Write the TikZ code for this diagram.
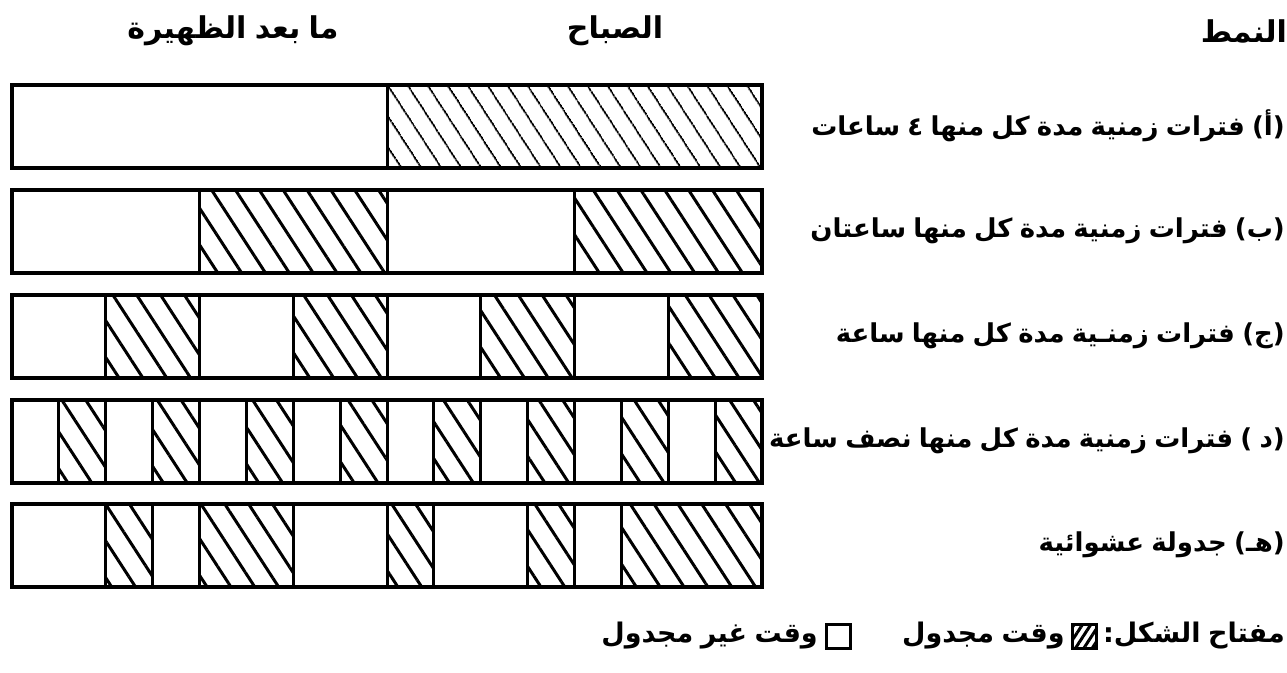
\documentclass[tikz,border=0pt]{standalone}
\usepackage{fontspec}
\newfontfamily\arabicfont[Script=Arabic, WordSpace=0.8]{DejaVu Sans}
\TeXXeTstate=1
\usetikzlibrary{patterns.meta, positioning}
\tikzset{
    bar/.style={draw, line width=4pt},
    cut/.style={line width=3pt},
    busy/.style={pattern={Lines[angle=-57, distance=20pt, line width=3pt]}},
    busyfine/.style={pattern={Lines[angle=-57, distance=17pt, line width=2pt]}},
    lbl/.style={anchor=east, inner sep=0pt, font=\arabicfont\bfseries\fontsize{26}{30}\selectfont},
    head/.style={inner sep=0pt, font=\arabicfont\bfseries\fontsize{30}{34}\selectfont},
    keytxt/.style={inner sep=0pt, font=\arabicfont\bfseries\fontsize{27}{31}\selectfont},
    keybox/.style={draw, line width=3pt, minimum size=24pt, inner sep=0pt}
}

\begin{document}
\begin{tikzpicture}[x=1pt, y=-1pt]
    \useasboundingbox (0,0) rectangle (1287,672);

    % column headings
    \node[head] (hafter) at (233,31) {\beginR ما بعد الظهيرة\endR};
    \node[head] (hmorn) at (615,31) {\beginR الصباح\endR};
    \node[head, anchor=east] (hmode) at (1287,31) {\beginR النمط\endR};

    % row (a): one block of 4 hours
    \fill[busyfine] ({12+46.875*8},85) rectangle (762,168);
    \draw[cut] ({12+46.875*8},85) -- ({12+46.875*8},168);
    \draw[bar] (12,85) rectangle (762,168);

    % rows (b)-(e): top / scheduled spans / cuts, in half hours
    \foreach \top/\spans/\cuts in {
        190/{4/8,12/16}/{4,8,12},
        295/{2/4,6/8,10/12,14/16}/{2,4,6,8,10,12,14},
        400/{1/2,3/4,5/6,7/8,9/10,11/12,13/14,15/16}/{1,2,...,15},
        504/{2/3,4/6,8/9,11/12,13/16}/{2,3,4,6,8,9,11,12,13}}
    {
        \foreach \s/\e in \spans
            \fill[busy] ({12+46.875*\s},\top) rectangle ({12+46.875*\e},{\top+83});
        \foreach \c in \cuts
            \draw[cut] ({12+46.875*\c},\top) -- ({12+46.875*\c},{\top+83});
        \draw[bar] (12,\top) rectangle (762,{\top+83});
    }

    % row labels
    \node[lbl] (pa) at (1285,126) {\beginR (أ) فترات زمنية مدة كل منها ٤ ساعات\endR};
    \node[lbl] (pb) at (1285,231) {\beginR (ب) فترات زمنية مدة كل منها ساعتان\endR};
    \node[lbl] (pc) at (1285,336) {\beginR (ج) فترات زمنـية مدة كل منها ساعة\endR};
    \node[lbl] (pd) at (1285,441) {\beginR (د ) فترات زمنية مدة كل منها نصف ساعة\endR};
    \node[lbl] (pe) at (1285,545) {\beginR (هـ) جدولة عشوائية\endR};

    % key
    \node[keytxt, anchor=east] (keyname) at (1285,636) {\beginR مفتاح الشكل:\endR};
    \node[keybox, pattern={Lines[angle=57, distance=7pt, line width=3pt]}, left=5pt of keyname] (keyon) {};
    \node[keytxt, left=6pt of keyon] (keyontxt) {\beginR وقت مجدول\endR};
    \node[keybox, left=50pt of keyontxt] (keyoff) {};
    \node[keytxt, left=7pt of keyoff] (keyofftxt) {\beginR وقت غير مجدول\endR};
\end{tikzpicture}
\end{document}
